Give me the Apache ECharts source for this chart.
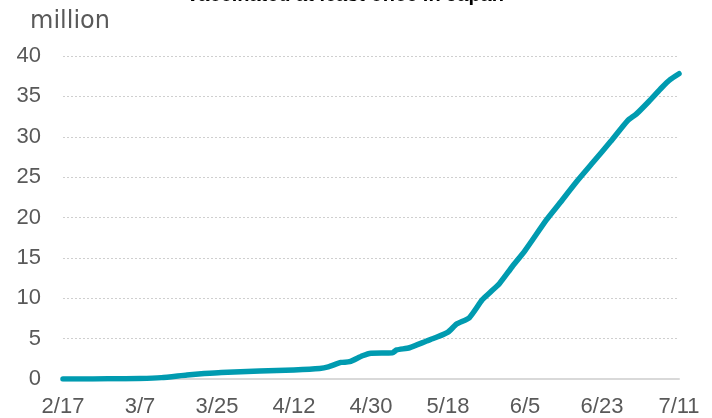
<!DOCTYPE html>
<html>
<head>
<meta charset="utf-8">
<script src="https://cdn.jsdelivr.net/npm/echarts@6/dist/echarts.min.js"></script>
<style>
  html, body { margin: 0; padding: 0; background: #fff; }
  #chart { width: 712px; height: 418px; }
</style>
</head>
<body>
<div id="chart"></div>
<script>
// days since 2/17 and people with at least one dose (million)
var dayOffsets = [0, 7, 14, 18, 23, 29, 33, 37, 46, 54, 60, 62, 65, 67, 70, 72, 77, 78, 81, 85, 87, 90, 92, 95, 98, 100, 102, 105, 108, 113, 116, 120, 124, 128, 132, 134, 137, 140, 142, 144];
var vaccinated = [0, 0.01, 0.03, 0.05, 0.17, 0.5, 0.68, 0.82, 0.98, 1.12, 1.3, 1.5, 2.05, 2.14, 2.88, 3.2, 3.25, 3.6, 3.87, 4.7, 5.1, 5.8, 6.8, 7.6, 9.8, 10.8, 11.8, 13.9, 15.9, 19.7, 21.7, 24.4, 26.9, 29.4, 32.0, 32.8, 34.4, 36.1, 37.1, 37.8];
var tickLabels = ['2/17', '3/7', '3/25', '4/12', '4/30', '5/18', '6/5', '6/23', '7/11'];

var seriesData = dayOffsets.map(function (d, i) {
  return [d, vaccinated[i]];
});

var myChart = echarts.init(document.getElementById('chart'));
myChart.setOption({
  animation: false,
  textStyle: { fontFamily: 'Liberation Sans, Arial, sans-serif' },
  title: {
    text: 'Vaccinated at least once in Japan',
    left: 340,
    textAlign: 'center',
    top: -20,
    textStyle: { fontSize: 20, fontWeight: 'bold', color: '#000' }
  },
  grid: { left: 63, right: 33, top: 56, bottom: 38 },
  xAxis: {
    type: 'value',
    min: 0,
    max: 144,
    interval: 18,
    axisLine: { show: true, lineStyle: { color: '#d9d9d9', width: 2 } },
    axisTick: { show: false },
    splitLine: { show: false },
    axisLabel: {
      color: '#595959',
      fontSize: 22,
      margin: 17,
      formatter: function (v) { return tickLabels[Math.round(v / 18)]; }
    }
  },
  yAxis: {
    type: 'value',
    min: 0,
    max: 40,
    interval: 5,
    name: 'million',
    nameLocation: 'end',
    nameGap: 22,
    nameTextStyle: {
      color: '#595959', fontSize: 24, fontFamily: 'DejaVu Sans',
      align: 'left', padding: [0, 0, 0, -33]
    },
    axisLine: { show: false },
    axisTick: { show: false },
    axisLabel: { color: '#595959', fontSize: 22, margin: 22 },
    splitLine: { lineStyle: { color: '#cfcfcf', type: [2, 2], width: 1 } }
  },
  series: [{
    type: 'line',
    data: seriesData,
    showSymbol: false,
    smooth: 0.2,
    lineStyle: { color: '#009bb0', width: 5.5, cap: 'round', join: 'round' }
  }]
});
</script>
</body>
</html>
